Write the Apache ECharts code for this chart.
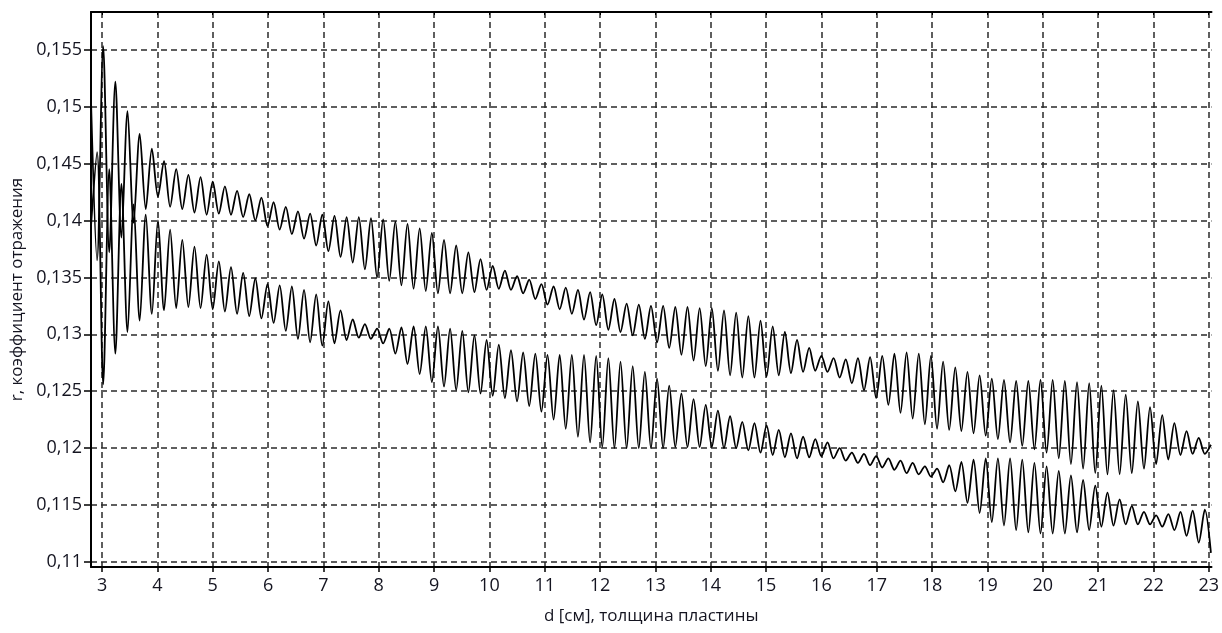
<!DOCTYPE html>
<html>
<head>
<meta charset="utf-8">
<script src="https://cdn.jsdelivr.net/npm/echarts@6/dist/echarts.min.js"></script>
<style>
    html, body { margin: 0; padding: 0; background: #fff; }
    #chart { width: 1222px; height: 633px; }
</style>
</head>
<body>
<div id="chart"></div>
<script>
// подписи осей
var dTicks = [3, 4, 5, 6, 7, 8, 9, 10, 11, 12, 13, 14, 15, 16, 17, 18, 19, 20, 21, 22, 23];
var rTicks = [0.11, 0.115, 0.12, 0.125, 0.13, 0.135, 0.14, 0.145, 0.15, 0.155];

// толщина пластины d, см (точки экстремумов)
var dExtrema = [
    2.80, 2.91, 3.02, 3.13, 3.24, 3.35, 3.46, 3.57, 3.68, 3.79,
    3.90, 4.01, 4.12, 4.23, 4.34, 4.45, 4.56, 4.67, 4.78, 4.89,
    5.00, 5.11, 5.22, 5.33, 5.44, 5.55, 5.66, 5.77, 5.88, 5.99,
    6.10, 6.21, 6.32, 6.43, 6.54, 6.65, 6.76, 6.87, 6.98, 7.09,
    7.20, 7.31, 7.42, 7.53, 7.64, 7.75, 7.86, 7.97, 8.08, 8.19,
    8.30, 8.41, 8.52, 8.63, 8.74, 8.85, 8.96, 9.07, 9.18, 9.29,
    9.40, 9.51, 9.62, 9.73, 9.84, 9.95, 10.06, 10.17, 10.28, 10.39,
    10.50, 10.61, 10.72, 10.83, 10.94, 11.05, 11.16, 11.27, 11.38, 11.49,
    11.60, 11.71, 11.82, 11.93, 12.04, 12.15, 12.26, 12.37, 12.48, 12.59,
    12.70, 12.81, 12.92, 13.03, 13.14, 13.25, 13.36, 13.47, 13.58, 13.69,
    13.80, 13.91, 14.02, 14.13, 14.24, 14.35, 14.46, 14.57, 14.68, 14.79,
    14.90, 15.01, 15.12, 15.23, 15.34, 15.45, 15.56, 15.67, 15.78, 15.89,
    16.00, 16.11, 16.22, 16.33, 16.44, 16.55, 16.66, 16.77, 16.88, 16.99,
    17.10, 17.21, 17.32, 17.43, 17.54, 17.65, 17.76, 17.87, 17.98, 18.09,
    18.20, 18.31, 18.42, 18.53, 18.64, 18.75, 18.86, 18.97, 19.08, 19.19,
    19.30, 19.41, 19.52, 19.63, 19.74, 19.85, 19.96, 20.07, 20.18, 20.29,
    20.40, 20.51, 20.62, 20.73, 20.84, 20.95, 21.06, 21.17, 21.28, 21.39,
    21.50, 21.61, 21.72, 21.83, 21.94, 22.05, 22.16, 22.27, 22.38, 22.49,
    22.60, 22.71, 22.82, 22.93, 23.04
];

// верхняя кривая r(d)
var rUpper = [
    0.1505, 0.1365, 0.1553, 0.1372, 0.1522, 0.1385, 0.1496, 0.1398, 0.1476, 0.1410,
    0.1463, 0.1421, 0.1452, 0.1412, 0.1445, 0.1410, 0.1440, 0.1407, 0.1438, 0.1405,
    0.1434, 0.1406, 0.1430, 0.1405, 0.1426, 0.1403, 0.1423, 0.1400, 0.1420, 0.1395,
    0.1416, 0.1392, 0.1412, 0.1388, 0.1408, 0.1384, 0.1406, 0.1378, 0.1405, 0.1373,
    0.1404, 0.1368, 0.1403, 0.1363, 0.1403, 0.1357, 0.1402, 0.1350, 0.1401, 0.1347,
    0.1399, 0.1343, 0.1397, 0.1340, 0.1393, 0.1338, 0.1389, 0.1336, 0.1383, 0.1336,
    0.1378, 0.1336, 0.1372, 0.1337, 0.1366, 0.1339, 0.1360, 0.1340, 0.1356, 0.1339,
    0.1351, 0.1336, 0.1348, 0.1331, 0.1344, 0.1326, 0.1342, 0.1322, 0.1341, 0.1318,
    0.1339, 0.1313, 0.1337, 0.1308, 0.1335, 0.1304, 0.1331, 0.1302, 0.1327, 0.1299,
    0.1326, 0.1296, 0.1325, 0.1293, 0.1325, 0.1288, 0.1324, 0.1282, 0.1324, 0.1277,
    0.1323, 0.1272, 0.1323, 0.1268, 0.1321, 0.1264, 0.1319, 0.1262, 0.1316, 0.1262,
    0.1312, 0.1263, 0.1307, 0.1264, 0.1302, 0.1266, 0.1295, 0.1267, 0.1288, 0.1268,
    0.1281, 0.1267, 0.1279, 0.1262, 0.1278, 0.1257, 0.1279, 0.1251, 0.1280, 0.1244,
    0.1281, 0.1238, 0.1283, 0.1231, 0.1284, 0.1226, 0.1283, 0.1221, 0.1281, 0.1217,
    0.1276, 0.1216, 0.1271, 0.1215, 0.1267, 0.1213, 0.1264, 0.1211, 0.1261, 0.1208,
    0.1260, 0.1205, 0.1259, 0.1202, 0.1259, 0.1199, 0.1260, 0.1196, 0.1260, 0.1191,
    0.1259, 0.1186, 0.1258, 0.1182, 0.1257, 0.1178, 0.1255, 0.1177, 0.1251, 0.1177,
    0.1247, 0.1178, 0.1241, 0.1182, 0.1236, 0.1186, 0.1229, 0.1190, 0.1222, 0.1194,
    0.1215, 0.1195, 0.1209, 0.1195, 0.1203
];

// нижняя кривая r(d)
var rLower = [
    0.1395, 0.1460, 0.1256, 0.1445, 0.1283, 0.1432, 0.1302, 0.1414, 0.1312, 0.1405,
    0.1318, 0.1400, 0.1321, 0.1392, 0.1323, 0.1383, 0.1324, 0.1377, 0.1323, 0.1370,
    0.1322, 0.1364, 0.1320, 0.1359, 0.1318, 0.1354, 0.1316, 0.1349, 0.1314, 0.1344,
    0.1310, 0.1343, 0.1303, 0.1342, 0.1296, 0.1339, 0.1293, 0.1335, 0.1290, 0.1329,
    0.1292, 0.1321, 0.1295, 0.1313, 0.1297, 0.1309, 0.1296, 0.1305, 0.1292, 0.1305,
    0.1283, 0.1306, 0.1274, 0.1307, 0.1265, 0.1307, 0.1258, 0.1307, 0.1254, 0.1305,
    0.1251, 0.1303, 0.1249, 0.1299, 0.1248, 0.1295, 0.1246, 0.1291, 0.1244, 0.1286,
    0.1241, 0.1284, 0.1237, 0.1283, 0.1232, 0.1282, 0.1225, 0.1282, 0.1217, 0.1282,
    0.1210, 0.1282, 0.1205, 0.1281, 0.1201, 0.1279, 0.1200, 0.1276, 0.1200, 0.1272,
    0.1200, 0.1267, 0.1200, 0.1261, 0.1200, 0.1255, 0.1201, 0.1248, 0.1201, 0.1243,
    0.1201, 0.1238, 0.1201, 0.1233, 0.1200, 0.1228, 0.1200, 0.1223, 0.1198, 0.1222,
    0.1196, 0.1220, 0.1194, 0.1216, 0.1192, 0.1213, 0.1191, 0.1210, 0.1192, 0.1208,
    0.1193, 0.1205, 0.1191, 0.1200, 0.1189, 0.1196, 0.1187, 0.1195, 0.1185, 0.1193,
    0.1183, 0.1191, 0.1181, 0.1189, 0.1178, 0.1187, 0.1177, 0.1184, 0.1175, 0.1182,
    0.1170, 0.1185, 0.1162, 0.1188, 0.1152, 0.1190, 0.1143, 0.1191, 0.1135, 0.1191,
    0.1132, 0.1191, 0.1128, 0.1190, 0.1126, 0.1187, 0.1125, 0.1184, 0.1125, 0.1180,
    0.1125, 0.1176, 0.1126, 0.1172, 0.1128, 0.1167, 0.1131, 0.1161, 0.1132, 0.1155,
    0.1133, 0.1149, 0.1133, 0.1144, 0.1133, 0.1141, 0.1131, 0.1142, 0.1128, 0.1144,
    0.1123, 0.1145, 0.1117, 0.1146, 0.1108
];

function pairs(xs, ys) {
    var out = [];
    for (var i = 0; i < xs.length; i++) out.push([xs[i], ys[i]]);
    return out;
}

function ReflectionChart() {
    var myChart = echarts.init(document.getElementById('chart'), null, { renderer: 'canvas' });
    var font = '"Open Sans", "Noto Sans", sans-serif';
    var textColor = '#141420';
    var gridLine = { show: true, lineStyle: { color: '#2a2a2a', width: 1.5, type: [6, 4] } };

    var option = {
        animation: false,
        backgroundColor: '#fff',
        textStyle: { fontFamily: font },
        grid: { left: 91, right: 0, top: 12, bottom: 66, containLabel: false },
        xAxis: [
            {
                type: 'value',
                min: 2.8,
                max: 23.05,
                name: 'd [см], толщина пластины',
                nameLocation: 'middle',
                nameGap: 41,
                nameTextStyle: { fontSize: 17, color: textColor, fontFamily: font },
                axisLine: { show: true, onZero: false, lineStyle: { color: '#000', width: 2 } },
                axisTick: { show: true, length: 5, customValues: dTicks, lineStyle: { color: '#000', width: 1.5 } },
                axisLabel: { customValues: dTicks, fontSize: 18, color: textColor, margin: 10, fontFamily: font },
                splitLine: gridLine
            },
            {
                type: 'value',
                position: 'top',
                min: 2.8,
                max: 23.05,
                axisLine: { show: true, onZero: false, lineStyle: { color: '#000', width: 2 } },
                axisTick: { show: true, inside: true, length: 3, customValues: dTicks, lineStyle: { color: '#000' } },
                axisLabel: { show: false },
                splitLine: { show: false }
            }
        ],
        yAxis: {
            type: 'value',
            min: 0.10956,
            max: 0.15831,
            name: 'r, коэффициент отражения',
            nameLocation: 'middle',
            nameRotate: 90,
            nameGap: 62,
            nameTextStyle: { fontSize: 17, color: textColor, fontFamily: font },
            axisLine: { show: true, onZero: false, lineStyle: { color: '#000', width: 2 } },
            axisTick: { show: true, length: 7, customValues: rTicks, lineStyle: { color: '#000', width: 1.5 } },
            axisLabel: {
                customValues: rTicks,
                fontSize: 18,
                color: textColor,
                margin: 9,
                fontFamily: font,
                formatter: function (v) { return String(v).replace('.', ','); }
            },
            splitLine: gridLine
        },
        series: [
            {
                type: 'line',
                data: pairs(dExtrema, rUpper),
                showSymbol: false,
                smooth: 0.3,
                lineStyle: { color: '#000', width: 1.8 }
            },
            {
                type: 'line',
                data: pairs(dExtrema, rLower),
                showSymbol: false,
                smooth: 0.3,
                lineStyle: { color: '#000', width: 1.8 }
            }
        ]
    };

    myChart.setOption(option, true);
    return myChart;
}

window.onload = function () {
    var chart = ReflectionChart();
    window.onresize = function () { chart.resize(); };
};
</script>
</body>
</html>
